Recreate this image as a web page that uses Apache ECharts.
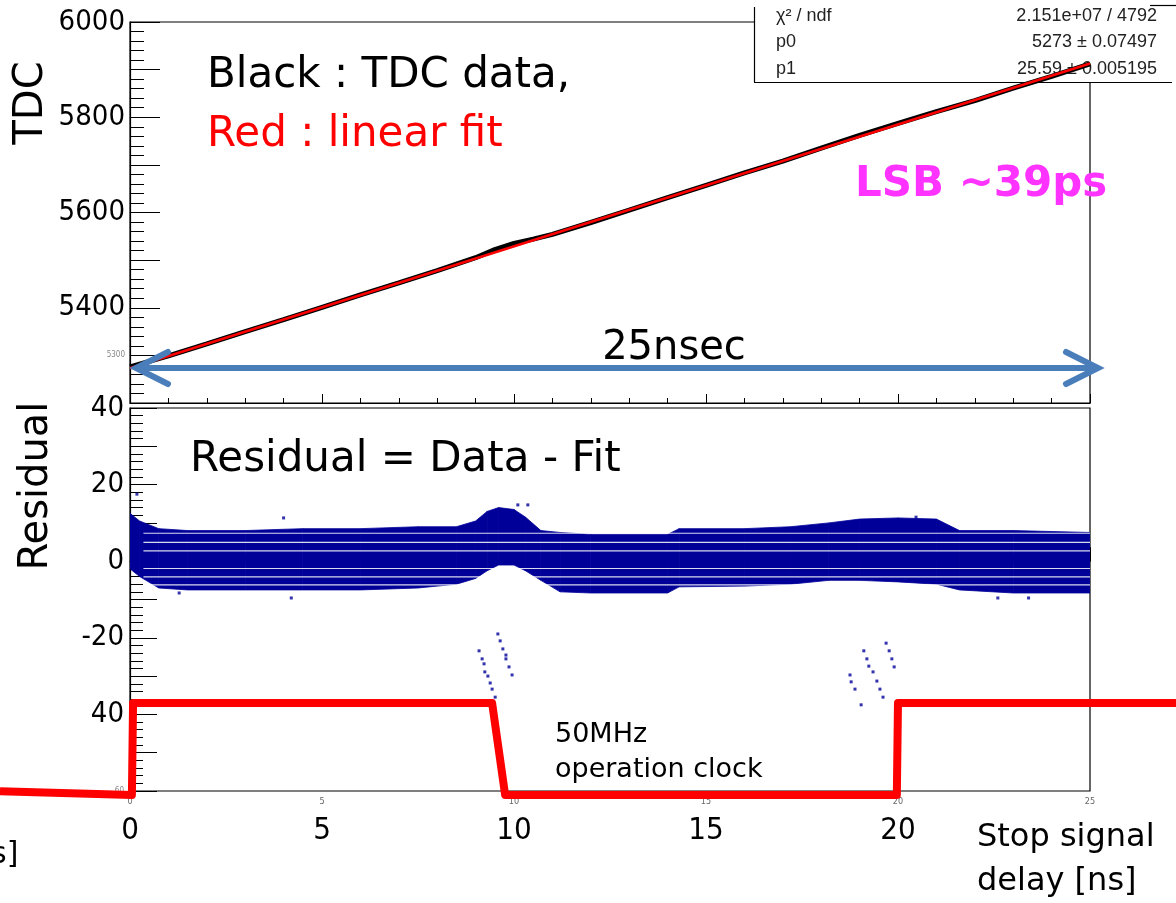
<!DOCTYPE html>
<html>
<head>
<meta charset="utf-8">
<title>TDC linearity</title>
<script src="https://cdn.jsdelivr.net/npm/echarts@6.0.0/dist/echarts.min.js"></script>
<style>
  html, body { margin: 0; padding: 0; background: #fff; }
  #main { width: 1176px; height: 903px; }
</style>
</head>
<body>
<div id="main"></div>
<script>
// TDC data (black), ns -> TDC count
var tdcX   = [0, 1, 2, 3, 4, 5, 6, 7, 8, 9, 9.5, 10, 10.5, 11, 12, 13, 14, 15, 16, 17, 18, 19, 20, 21, 22, 23, 24, 25];
var tdcVal = [5276, 5299, 5324, 5350, 5375, 5401, 5427, 5452, 5478, 5505, 5522, 5535, 5544, 5554, 5579, 5605, 5631, 5657, 5683, 5708, 5735, 5762, 5787, 5812, 5835, 5861, 5886, 5912];

// linear fit (red), end points
var fitX   = [0, 25];
var fitVal = [5273, 5912.75];

// residual band envelope
var bandX      = [0, 0.25, 0.75, 1.5, 3, 4.5, 6, 7.5, 8.5, 9.0, 9.3, 9.6, 10.0, 10.3, 10.7, 11.2, 12, 14, 14.3, 16, 17.2, 18.2, 19, 20, 21, 21.6, 23, 25];
var bandTop    = [12.5, 10.5, 8.5, 8, 8, 8.5, 8.5, 9, 9, 10.5, 13, 14, 13.5, 11.5, 8, 7.5, 7, 7, 8.5, 8.5, 9, 10, 11, 11.3, 11, 8, 8, 7.5];
var bandBottom = [-2, -4, -7, -7.5, -7.5, -7.5, -7.5, -7, -6, -4.5, -2.5, -1, -1, -2.5, -5, -8, -8.3, -8.3, -6.7, -6.5, -6, -5, -5, -5.4, -6, -7.5, -8.3, -8.3];
var quantLevels = [7.3, 4.9, 2.7, -1.9, -4.1, -6.2];

// stray residual points
var outX = [9.09, 9.17, 9.22, 9.24, 9.32, 9.38, 9.43, 9.51, 9.58, 9.64, 9.71, 9.79, 9.79, 9.87, 9.95,
            19.69, 19.77, 19.84, 19.9, 19.11, 19.19, 19.24, 19.35, 19.45, 19.53, 19.61, 18.75, 18.78, 18.88, 19.04,
            0.18, 4.0, 10.1, 10.36, 20.47, 1.28, 4.2, 22.6, 23.4];
var outY = [-23.4, -25.5, -26.8, -28.9, -30, -31.8, -33.4, -35.5, -19, -20.8, -22.9, -24.5, -25.5, -27.6, -29.7,
            -21.4, -23.4, -25.5, -27.6, -23.4, -25.5, -27.4, -28.9, -31.3, -33.4, -35.5, -29.7, -31.5, -33.4, -37.5,
            17.5, 11.3, 14.7, 14.7, 11.5, -8.3, -9.6, -9.6, -9.6];

// 50MHz clock overlay (0 = low, 1 = high)
var clockX     = [-3.385, 0.05, 0.08, 9.43, 9.77, 19.97, 20.0, 27.24];
var clockLevel = [0.04, 0, 1, 1, 0, 0, 1, 1];

// tick labels
var tdcBigTicks   = [5400, 5600, 5800, 6000];
var tdcSmallTicks = [5300];
var resBigTicks   = { '40': '40', '20': '20', '0': '0', '-20': '-20', '-40': '40' };
var resSmallTicks = { '-60': '60' };
var nsTicks       = [0, 5, 10, 15, 20];

var numFont = "'DejaVu Sans Condensed', 'DejaVu Sans', sans-serif";
var txtFont = "'DejaVu Sans', sans-serif";
var statFont = "18px 'Liberation Sans', Arial, sans-serif";
var navy = '#000099';

function pairs(xs, ys) { return xs.map(function (x, i) { return [x, ys[i]]; }); }

// band as quads between neighbouring envelope samples
var bandSegs = [];
for (var i = 0; i < bandX.length - 1; i++) {
  bandSegs.push([bandX[i], bandTop[i], bandBottom[i], bandX[i + 1], bandTop[i + 1], bandBottom[i + 1]]);
}

var chart = echarts.init(document.getElementById('main'));

var tickStyle = { color: '#000', width: 1 };

var quantSeries = quantLevels.map(function (q) {
  return { type: 'line', xAxisIndex: 1, yAxisIndex: 1, z: 3, silent: true,
    data: [[0.35, q], [25, q]], showSymbol: false,
    lineStyle: { color: '#ffffff', width: 1.2, opacity: 0.85 } };
});

var option = {
  animation: false,
  backgroundColor: '#fff',
  grid: [
    { left: 130, top: 22, width: 960, height: 381, show: true, borderColor: '#000', borderWidth: 1.2, backgroundColor: 'transparent' },
    { left: 130, top: 408, width: 960, height: 383, show: true, borderColor: '#000', borderWidth: 1.2, backgroundColor: 'transparent' },
    { left: 0, top: 703, width: 1176, height: 92, show: false }
  ],
  xAxis: [
    { type: 'value', gridIndex: 0, min: 0, max: 25, interval: 5,
      axisLine: { show: true, lineStyle: { color: '#000', width: 1.2 } },
      axisTick: { show: true, inside: true, length: 9, lineStyle: tickStyle },
      minorTick: { show: true, splitNumber: 5, length: 5, lineStyle: tickStyle },
      axisLabel: { show: false }, splitLine: { show: false } },
    { type: 'value', gridIndex: 1, min: 0, max: 25, interval: 5,
      axisLine: { show: true, lineStyle: { color: '#000', width: 1.2 } },
      axisTick: { show: true, inside: true, length: 14, lineStyle: tickStyle },
      minorTick: { show: true, splitNumber: 5, length: 7, lineStyle: tickStyle },
      axisLabel: { show: true, margin: 6, fontSize: 9, color: '#666', fontFamily: numFont },
      splitLine: { show: false } },
    { type: 'value', gridIndex: 1, min: 0, max: 25, interval: 5, position: 'bottom',
      axisLine: { show: false }, axisTick: { show: false }, splitLine: { show: false },
      axisLabel: { show: true, margin: 24, fontSize: 31, color: '#000', fontFamily: numFont,
        formatter: function (v) { return nsTicks.indexOf(v) >= 0 ? String(v) : ''; } } },
    { type: 'value', gridIndex: 2, min: clockX[0], max: clockX[clockX.length - 1], show: false }
  ],
  yAxis: [
    { type: 'value', gridIndex: 0, min: 5200, max: 6000, interval: 100,
      axisLine: { show: true, lineStyle: { color: '#000', width: 1.2 } },
      axisTick: { show: true, inside: true, length: 30, lineStyle: tickStyle },
      minorTick: { show: true, splitNumber: 5, length: 14, lineStyle: tickStyle },
      splitLine: { show: false },
      axisLabel: { show: true, margin: 5,
        formatter: function (v) {
          if (tdcBigTicks.indexOf(v) >= 0) return '{b|' + v + '}';
          if (tdcSmallTicks.indexOf(v) >= 0) return '{s|' + v + '}';
          return '';
        },
        rich: {
          b: { fontSize: 29, fontFamily: numFont, color: '#000' },
          s: { fontSize: 8, fontFamily: numFont, color: '#888' }
        } } },
    { type: 'value', gridIndex: 1, min: -60, max: 40, interval: 10,
      axisLine: { show: true, lineStyle: { color: '#000', width: 1.2 } },
      axisTick: { show: true, inside: true, length: 27, lineStyle: tickStyle },
      minorTick: { show: true, splitNumber: 5, length: 13, lineStyle: tickStyle },
      splitLine: { show: false },
      axisLabel: { show: true, margin: 6,
        formatter: function (v) {
          var k = String(v);
          if (resBigTicks[k] !== undefined) return '{b|' + resBigTicks[k] + '}';
          if (resSmallTicks[k] !== undefined) return '{s|' + resSmallTicks[k] + '}';
          return '';
        },
        rich: {
          b: { fontSize: 29, fontFamily: numFont, color: '#000' },
          s: { fontSize: 8, fontFamily: numFont, color: '#888' }
        } } },
    { type: 'value', gridIndex: 2, min: 0, max: 1, show: false }
  ],
  series: [
    { name: 'TDC data', type: 'line', xAxisIndex: 0, yAxisIndex: 0, z: 3,
      data: pairs(tdcX, tdcVal), showSymbol: false,
      lineStyle: { color: '#000', width: 5 } },
    { name: 'linear fit', type: 'line', xAxisIndex: 0, yAxisIndex: 0, z: 4,
      data: pairs(fitX, fitVal), showSymbol: false,
      lineStyle: { color: '#ff0000', width: 2.5 } },
    { name: 'Residual', type: 'custom', xAxisIndex: 1, yAxisIndex: 1, z: 2, clip: true,
      data: bandSegs,
      encode: { x: [0, 3], y: [1, 2, 4, 5] },
      renderItem: function (params, api) {
        var pts = [
          api.coord([api.value(0), api.value(1)]),
          api.coord([api.value(3), api.value(4)]),
          api.coord([api.value(3), api.value(5)]),
          api.coord([api.value(0), api.value(2)])
        ];
        return { type: 'polygon', shape: { points: pts },
                 style: { fill: navy, stroke: navy, lineWidth: 0.8 } };
      } }
  ].concat(quantSeries).concat([
    { name: 'stray', type: 'scatter', xAxisIndex: 1, yAxisIndex: 1, z: 5,
      data: pairs(outX, outY), symbol: 'rect', symbolSize: 3,
      itemStyle: { color: navy } },
    { name: 'clock', type: 'line', xAxisIndex: 3, yAxisIndex: 2, z: 6,
      data: pairs(clockX, clockLevel), showSymbol: false, clip: false,
      lineStyle: { color: '#ff0000', width: 8, join: 'round' } }
  ]),
  graphic: [
    // stats box
    { type: 'rect', z: 1, shape: { x: 755, y: 0, width: 430, height: 82 }, style: { fill: '#fff' } },
    { type: 'line', z: 1, shape: { x1: 754.5, y1: 7, x2: 754.5, y2: 82 }, style: { stroke: '#000', lineWidth: 1.2 } },
    { type: 'line', z: 1, shape: { x1: 754, y1: 82.5, x2: 1172, y2: 82.5 }, style: { stroke: '#000', lineWidth: 1.2 } },
    { type: 'line', z: 1, shape: { x1: 1150, y1: 5.5, x2: 1176, y2: 5.5 }, style: { stroke: '#000', lineWidth: 1.2 } },
    { type: 'text', z: 1, left: 776, top: 7, style: { text: 'χ² / ndf', font: statFont, fill: '#222' } },
    { type: 'text', z: 1, left: 776, top: 33, style: { text: 'p0', font: statFont, fill: '#222' } },
    { type: 'text', z: 1, left: 776, top: 60, style: { text: 'p1', font: statFont, fill: '#222' } },
    { type: 'text', z: 1, right: 19, top: 7, style: { text: '2.151e+07 / 4792', font: statFont, fill: '#222' } },
    { type: 'text', z: 1, right: 19, top: 33, style: { text: '5273 ± 0.07497', font: statFont, fill: '#222' } },
    { type: 'text', z: 1, right: 19, top: 60, style: { text: '25.59 ± 0.005195', font: statFont, fill: '#222' } },

    // axis titles
    { type: 'text', z: 20, x: 32, y: 103, rotation: Math.PI / 2,
      style: { text: 'TDC', font: '40px ' + txtFont, fill: '#000', align: 'center', verticalAlign: 'middle' } },
    { type: 'text', z: 20, x: 37, y: 486, rotation: Math.PI / 2,
      style: { text: 'Residual', font: '40px ' + txtFont, fill: '#000', align: 'center', verticalAlign: 'middle' } },
    { type: 'text', z: 20, x: 977, y: 838,
      style: { text: 'Stop signal', font: '32px ' + txtFont, fill: '#000', align: 'left', verticalAlign: 'middle' } },
    { type: 'text', z: 20, x: 977, y: 882,
      style: { text: 'delay [ns]', font: '32px ' + txtFont, fill: '#000', align: 'left', verticalAlign: 'middle' } },
    { type: 'text', z: 20, x: -9, y: 855,
      style: { text: 's]', font: '30px ' + txtFont, fill: '#000', align: 'left', verticalAlign: 'middle' } },

    // annotations
    { type: 'text', z: 20, x: 207, y: 76,
      style: { text: 'Black : TDC data,', font: '42px ' + txtFont, fill: '#000', align: 'left', verticalAlign: 'middle' } },
    { type: 'text', z: 20, x: 207, y: 135,
      style: { text: 'Red : linear fit', font: '42px ' + txtFont, fill: '#ff0000', align: 'left', verticalAlign: 'middle' } },
    { type: 'text', z: 20, x: 855, y: 185,
      style: { text: 'LSB ~39ps', font: 'bold 42px ' + txtFont, fill: '#ff33ff', align: 'left', verticalAlign: 'middle',
               shadowColor: 'rgba(0,0,0,0.45)', shadowOffsetX: 2, shadowOffsetY: 2, shadowBlur: 2 } },
    { type: 'text', z: 20, x: 674, y: 349,
      style: { text: '25nsec', font: '40px ' + txtFont, fill: '#000', align: 'center', verticalAlign: 'middle' } },
    { type: 'text', z: 20, x: 190, y: 460,
      style: { text: 'Residual = Data - Fit', font: '42px ' + txtFont, fill: '#000', align: 'left', verticalAlign: 'middle' } },
    { type: 'text', z: 20, x: 555, y: 735,
      style: { text: '50MHz', font: '27px ' + txtFont, fill: '#000', align: 'left', verticalAlign: 'middle' } },
    { type: 'text', z: 20, x: 555, y: 770,
      style: { text: 'operation clock', font: '27px ' + txtFont, fill: '#000', align: 'left', verticalAlign: 'middle' } },

    // 25 ns double arrow
    { type: 'line', z: 20, shape: { x1: 138, y1: 368, x2: 1096, y2: 368 },
      style: { stroke: '#4a7ebb', lineWidth: 6 } },
    { type: 'polyline', z: 20, shape: { points: [[168, 352], [136, 368], [168, 384]] },
      style: { stroke: '#4a7ebb', lineWidth: 6, lineCap: 'round', lineJoin: 'miter', fill: null } },
    { type: 'polyline', z: 20, shape: { points: [[1066, 352], [1098, 368], [1066, 384]] },
      style: { stroke: '#4a7ebb', lineWidth: 6, lineCap: 'round', lineJoin: 'miter', fill: null } }
  ]
};

chart.setOption(option);
</script>
</body>
</html>
